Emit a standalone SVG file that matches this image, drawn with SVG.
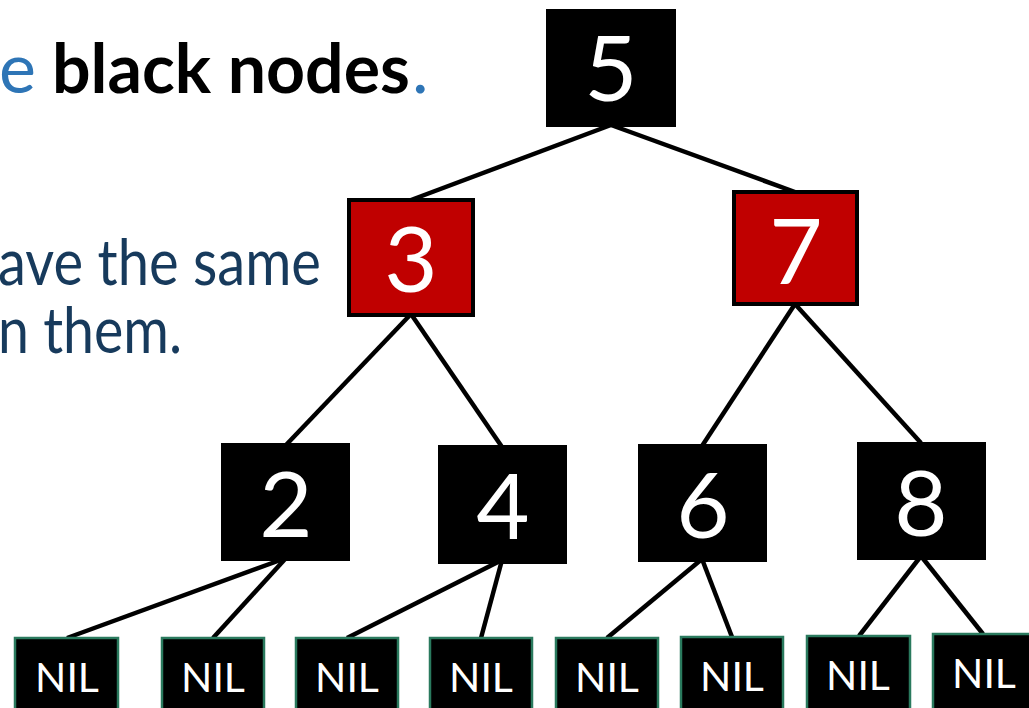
<svg xmlns="http://www.w3.org/2000/svg" width="1029" height="708" viewBox="0 0 1029 708">
<style>
.edge{stroke:#000;stroke-width:4.5;fill:none}
.blk{fill:#000}
.red{fill:#c00000;stroke:#000;stroke-width:4}
.nil{fill:#000;stroke:#2a7a5e;stroke-width:2.5}
.num{font-family:Lato,"Open Sans",sans-serif;font-size:92px;fill:#fff;text-anchor:middle}
.nilt{font-family:Lato,"Open Sans",sans-serif;font-size:41px;fill:#fff;text-anchor:middle}
.cap{font-family:Lato,"Open Sans",sans-serif}
</style>
<rect width="1029" height="708" fill="#fff"/>
<g id="caption">
<text class="cap" y="93" font-size="70"><tspan x="-1" fill="#2e75b6">e</tspan><tspan x="52" font-size="68" font-weight="bold" fill="#000">black nodes</tspan><tspan x="412" fill="#2e75b6">.</tspan></text>
<text class="cap" font-size="63" fill="#173a5c"><tspan x="-2" y="285" textLength="323" lengthAdjust="spacingAndGlyphs">ave the same</tspan><tspan x="-2" y="353" textLength="184" lengthAdjust="spacingAndGlyphs">n them.</tspan></text>
</g>
<g id="connectors">
<line class="edge" x1="611" y1="125" x2="411" y2="200"/>
<line class="edge" x1="611" y1="125" x2="795" y2="192"/>
<line class="edge" x1="411" y1="314" x2="286" y2="445"/>
<line class="edge" x1="411" y1="314" x2="502" y2="447"/>
<line class="edge" x1="795" y1="304" x2="702" y2="446"/>
<line class="edge" x1="795" y1="304" x2="921" y2="443"/>
<line class="edge" x1="286" y1="558" x2="67" y2="638"/>
<line class="edge" x1="286" y1="558" x2="213" y2="638"/>
<line class="edge" x1="502" y1="560" x2="347" y2="638"/>
<line class="edge" x1="502" y1="560" x2="481" y2="638"/>
<line class="edge" x1="702" y1="559" x2="607" y2="638"/>
<line class="edge" x1="702" y1="559" x2="732" y2="637"/>
<line class="edge" x1="921" y1="556" x2="859" y2="636"/>
<line class="edge" x1="921" y1="556" x2="983" y2="634"/>
</g>
<g id="n5"><rect class="blk" x="546" y="9" width="130" height="118"/><text class="num" x="611" y="101">5</text></g>
<g id="n3"><rect class="red" x="349" y="200" width="124" height="115"/><text class="num" x="411" y="292">3</text></g>
<g id="n7"><rect class="red" x="734" y="192" width="123" height="112"/><text class="num" x="796" y="284">7</text></g>
<g id="n2"><rect class="blk" x="221" y="443" width="129" height="118"/><text class="num" x="286" y="537">2</text></g>
<g id="n4"><rect class="blk" x="438" y="445" width="129" height="119"/><text class="num" x="503" y="539">4</text></g>
<g id="n6"><rect class="blk" x="638" y="444" width="129" height="118"/><text class="num" x="703" y="538">6</text></g>
<g id="n8"><rect class="blk" x="857" y="442" width="129" height="118"/><text class="num" x="921" y="536">8</text></g>
<g id="nil1"><rect class="nil" x="15" y="638" width="103" height="80"/><text class="nilt" x="67" y="692">NIL</text></g>
<g id="nil2"><rect class="nil" x="162" y="638" width="102" height="80"/><text class="nilt" x="213" y="692">NIL</text></g>
<g id="nil3"><rect class="nil" x="296" y="638" width="102" height="80"/><text class="nilt" x="347" y="692">NIL</text></g>
<g id="nil4"><rect class="nil" x="430" y="638" width="102" height="80"/><text class="nilt" x="481" y="692">NIL</text></g>
<g id="nil5"><rect class="nil" x="556" y="638" width="102" height="80"/><text class="nilt" x="607" y="692">NIL</text></g>
<g id="nil6"><rect class="nil" x="681" y="637" width="102" height="80"/><text class="nilt" x="732" y="691">NIL</text></g>
<g id="nil7"><rect class="nil" x="807" y="636" width="103" height="80"/><text class="nilt" x="858" y="690">NIL</text></g>
<g id="nil8"><rect class="nil" x="933" y="634" width="103" height="80"/><text class="nilt" x="984" y="688">NIL</text></g>
</svg>
